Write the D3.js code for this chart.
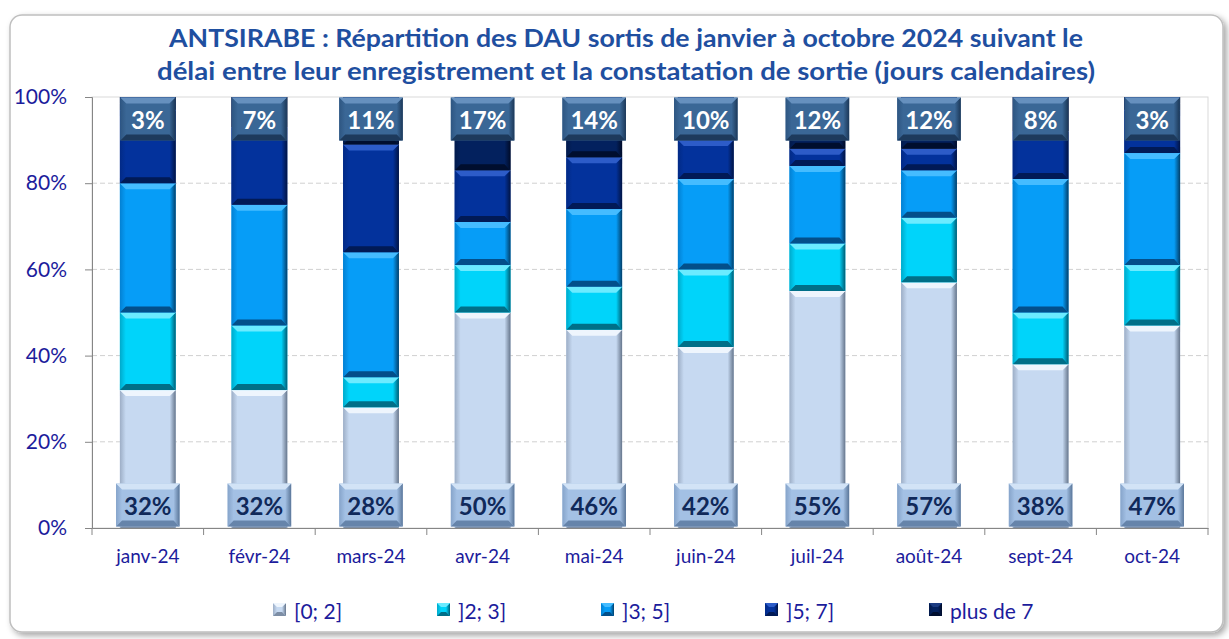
<!DOCTYPE html>
<html>
<head>
<meta charset="utf-8">
<script src="https://cdn.jsdelivr.net/npm/d3@7"></script>
<style>
  body { margin: 0; background: #fff; }
  svg { display: block; font-family: Lato, 'Open Sans', sans-serif; }
</style>
</head>
<body>
<div id="chart"></div>
<script>
// Data (percent of DAU per month)
const months = ['janv-24','févr-24','mars-24','avr-24','mai-24','juin-24','juil-24','août-24','sept-24','oct-24'];
const series = ['[0; 2]', ']2; 3]', ']3; 5]', ']5; 7]', 'plus de 7'];
const v0to2 = [32, 32, 28, 50, 46, 42, 55, 57, 38, 47];
const v2to3 = [18, 15, 7, 11, 10, 18, 11, 15, 12, 14];
const v3to5 = [30, 28, 29, 10, 18, 21, 18, 11, 31, 26];
const v5to7 = [17, 18, 25, 12, 12, 9, 4, 5, 11, 10];
const vOver7 = [3, 7, 11, 17, 14, 10, 12, 12, 8, 3];
const yTicks = [0, 0.2, 0.4, 0.6, 0.8, 1];
const titleLines = ['ANTSIRABE : Répartition des DAU sortis de janvier à octobre 2024 suivant le',
                    'délai entre leur enregistrement et la constatation de sortie (jours calendaires)'];

const W = 1229, H = 639;
const navy = '#1C1C9C';

// bevel colours per series
const pal = [
  {main:'#C6D9F1', top:'#EEF5FD', bottom:'#7D8EA5', left:'#9DAEC6', right:'#66768C'},
  {main:'#00D4FA', top:'#6BEBFF', bottom:'#006F88', left:'#00A9CA', right:'#005C74'},
  {main:'#069DF7', top:'#45BCFF', bottom:'#034F8A', left:'#0380D2', right:'#023F6A'},
  {main:'#03329C', top:'#2D5CC8', bottom:'#011A56', left:'#022A86', right:'#011444'},
  {main:'#03215E', top:'#1C3C82', bottom:'#000E2E', left:'#021A4C', right:'#000B28'}
];
const boxTop = {main:'#3A6796', top:'#6690BE', bottom:'#1D3A5C', left:'#2E5682', right:'#1C3858'};
const boxBot = {main:'#A3C0E4', top:'#D2E3F6', bottom:'#6684AA', left:'#86A4CA', right:'#5A7699'};

const rows = months.map((m,i)=>({
  month:m,
  [series[0]]:v0to2[i]/100, [series[1]]:v2to3[i]/100, [series[2]]:v3to5[i]/100,
  [series[3]]:v5to7[i]/100, [series[4]]:vOver7[i]/100
}));

const svg = d3.select('#chart').append('svg')
  .attr('width', W).attr('height', H);

const defs = svg.append('defs');
defs.append('filter').attr('id','shadow').attr('x','-5%').attr('y','-5%').attr('width','110%').attr('height','110%')
  .append('feDropShadow').attr('dx',3).attr('dy',3).attr('stdDeviation',3).attr('flood-color','#000').attr('flood-opacity',0.35);

function sideGrads(id, c){
  let gl = defs.append('linearGradient').attr('id', id+'l');
  gl.append('stop').attr('offset','0%').attr('stop-color', c.left);
  gl.append('stop').attr('offset','100%').attr('stop-color', c.main);
  let gr = defs.append('linearGradient').attr('id', id+'r');
  gr.append('stop').attr('offset','0%').attr('stop-color', c.main);
  gr.append('stop').attr('offset','100%').attr('stop-color', c.right);
}
pal.forEach((c,i)=>sideGrads('s'+i, c));
sideGrads('bt', boxTop);
sideGrads('bb', boxBot);

// draw a bevelled rectangle
function bevel(g, x, y, w, h, c, id, b){
  b = Math.max(0, Math.min(b, h/2, w/2));
  let poly = (pts, fill)=>g.append('polygon').attr('points', pts.map(p=>p.join(',')).join(' ')).attr('fill', fill);
  g.append('rect').attr('x',x).attr('y',y).attr('width',w).attr('height',h).attr('fill',c.main);
  poly([[x,y],[x+b,y+b],[x+b,y+h-b],[x,y+h]], 'url(#'+id+'l)');
  poly([[x+w,y],[x+w-b,y+b],[x+w-b,y+h-b],[x+w,y+h]], 'url(#'+id+'r)');
  poly([[x,y],[x+w,y],[x+w-b,y+b],[x+b,y+b]], c.top);
  poly([[x,y+h],[x+w,y+h],[x+w-b,y+h-b],[x+b,y+h-b]], c.bottom);
}

// chart frame
svg.append('rect')
  .attr('x',10).attr('y',15).attr('width',1213).attr('height',617).attr('rx',12)
  .attr('fill','#fff').attr('stroke','#BFBFBF').attr('stroke-width',1.5)
  .attr('filter','url(#shadow)');

// title
svg.append('g').selectAll('text').data(titleLines).enter().append('text')
  .attr('x', 626).attr('y',(d,i)=>47+i*33)
  .attr('text-anchor','middle')
  .attr('font-size',24).attr('font-weight','bold')
  .attr('fill','#1F4FA0')
  .attr('textLength',(d,i)=>i==0?914:938).attr('lengthAdjust','spacingAndGlyphs')
  .text(d=>d);

const x = d3.scaleBand().domain(months).range([92,1208]).paddingInner(0.5).paddingOuter(0.25);
const y = d3.scaleLinear().domain([0,1]).range([528,97]);

// plot border + gridlines
svg.append('rect').attr('x',92).attr('y',y(1)).attr('width',1208-92).attr('height',y(0)-y(1))
  .attr('fill','none').attr('stroke','#D9D9D9');
svg.append('g').selectAll('line').data(yTicks.filter(d=>d>0 && d<1)).enter().append('line')
  .attr('x1',92).attr('x2',1208).attr('y1',d=>y(d)).attr('y2',d=>y(d))
  .attr('stroke','#D0D0D0').attr('stroke-dasharray','5,3');

// y axis
let yAxis = svg.append('g').attr('transform','translate(92,0)')
  .call(d3.axisLeft(y).tickValues(yTicks).tickFormat(d3.format('.0%')).tickSize(7).tickPadding(18));
yAxis.select('.domain').attr('stroke','#868686');
yAxis.selectAll('.tick line').attr('stroke','#868686');
yAxis.selectAll('.tick text').attr('font-size',21).attr('fill',navy).attr('font-family','Lato, sans-serif');

// x axis
let xAxis = svg.append('g').attr('transform','translate(0,'+y(0)+')')
  .call(d3.axisBottom(x).tickSize(0).tickPadding(22));
xAxis.select('.domain').attr('stroke','#868686');
xAxis.selectAll('.tick text').attr('font-size',19).attr('fill',navy).attr('font-family','Lato, sans-serif');
let edges = months.map(m=>x(m)-(x.step()-x.bandwidth())/2).concat([1208]);
xAxis.append('g').selectAll('line').data(edges).enter().append('line')
  .attr('x1',d=>d).attr('x2',d=>d).attr('y1',0).attr('y2',7).attr('stroke','#868686');

// stacked bars
const stacked = d3.stack().keys(series)(rows);
let layers = svg.append('g').selectAll('g').data(stacked).enter().append('g');
layers.each(function(layer, si){
  let g = d3.select(this);
  layer.forEach(d=>{
    let y0 = y(d[0]), y1 = y(d[1]);
    bevel(g, x(d.data.month), y1, x.bandwidth(), y0-y1, pal[si], 's'+si, 6);
  });
});

// value labels: first series at the base, last series at the top
function labelBoxes(vals, cy, c, id, txtColor){
  let g = svg.append('g');
  months.forEach((m,i)=>{
    let cx = x(m) + x.bandwidth()/2;
    let t = g.append('text').attr('x',cx).attr('y',cy)
      .attr('text-anchor','middle').attr('dominant-baseline','central')
      .attr('font-size',24).attr('font-weight','bold').attr('fill',txtColor)
      .text(vals[i]+'%');
    let tw = t.node().getComputedTextLength();
    let bw = Math.max(tw+16, 55), bh = 43;
    let bg = g.insert('g', function(){ return t.node(); });
    bevel(bg, cx-bw/2, cy-bh/2, bw, bh, c, id, 6);
  });
}
labelBoxes(v0to2, y(0)-23, boxBot, 'bb', '#10295A');
labelBoxes(vOver7, y(1)+22, boxTop, 'bt', '#fff');

// legend
let leg = svg.append('g').selectAll('g').data(series).enter().append('g')
  .attr('transform',(d,i)=>'translate('+(273+i*164)+',610)');
leg.each(function(d,i){
  bevel(d3.select(this), 0, -7, 13, 13, pal[i], 's'+i, 4);
});
leg.append('text').attr('x',21).attr('y',0).attr('dominant-baseline','central')
  .attr('font-size',21).attr('fill',navy).text(d=>d);
</script>
</body>
</html>
